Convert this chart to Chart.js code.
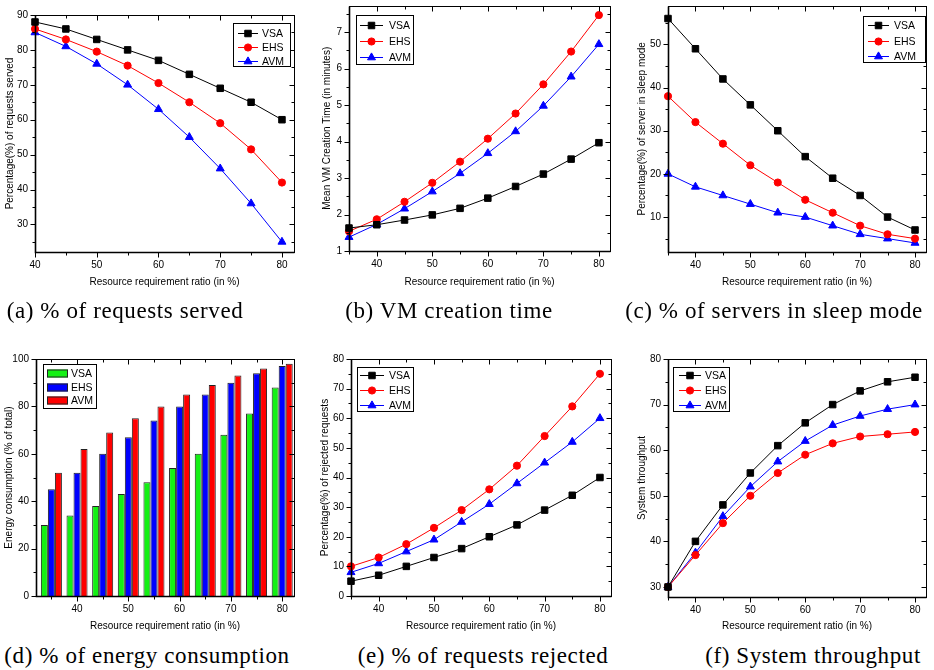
<!DOCTYPE html>
<html>
<head>
<meta charset="utf-8">
<script src="https://cdn.jsdelivr.net/npm/chart.js@4.4.1/dist/chart.umd.min.js"></script>
<style>
body { margin: 0; background: #fff; width: 934px; height: 670px; position: relative; overflow: hidden; }
canvas { position: absolute; }
.cap { position: absolute; width: 400px; text-align: center; font: 23px 'Liberation Serif', serif; letter-spacing: 0.6px; line-height: 26px; white-space: nowrap; color: #000; }
</style>
</head>
<body>
<canvas id="cA" width="310" height="300" style="left:0px;top:0px"></canvas>
<canvas id="cB" width="310" height="300" style="left:310px;top:0px"></canvas>
<canvas id="cC" width="314" height="300" style="left:620px;top:0px"></canvas>
<canvas id="cD" width="310" height="300" style="left:0px;top:340px"></canvas>
<canvas id="cE" width="310" height="300" style="left:310px;top:340px"></canvas>
<canvas id="cF" width="314" height="300" style="left:620px;top:340px"></canvas>

<div class="cap" style="left:-75px;top:298px">(a) % of requests served</div>
<div class="cap" style="left:249px;top:298px">(b) VM creation time</div>
<div class="cap" style="left:574px;top:298px">(c) % of servers in sleep mode</div>
<div class="cap" style="left:-53px;top:643px">(d) % of energy consumption</div>
<div class="cap" style="left:283px;top:643px">(e) % of requests rejected</div>
<div class="cap" style="left:613px;top:643px">(f) System throughput</div>

<script>
// x values (resource requirement ratio, %)
const ratios = [35, 40, 45, 50, 55, 60, 65, 70, 75, 80];
const ratiosServed = [40, 45, 50, 55, 60, 65, 70, 75, 80];
const seriesNames = ['VSA', 'EHS', 'AVM'];

// (a) % of requests served
const servedVSA = [88, 86, 83, 80, 77, 73, 69, 65, 60];
const servedEHS = [86, 83, 79.5, 75.5, 70.5, 65, 59, 51.5, 42];
const servedAVM = [85, 81, 76, 70, 63, 55, 46, 36, 25];

// (b) mean VM creation time (minutes)
const timeVSA = [1.63, 1.72, 1.85, 1.99, 2.17, 2.45, 2.77, 3.11, 3.52, 3.97];
const timeEHS = [1.54, 1.87, 2.35, 2.87, 3.45, 4.08, 4.77, 5.57, 6.47, 7.47];
const timeAVM = [1.38, 1.73, 2.16, 2.63, 3.13, 3.68, 4.28, 4.98, 5.78, 6.67];

// (c) % of servers in sleep mode
const sleepVSA = [56, 49, 42, 36, 30, 24, 19, 15, 10, 7];
const sleepEHS = [38, 32, 27, 22, 18, 14, 11, 8, 6, 5];
const sleepAVM = [20, 17, 15, 13, 11, 10, 8, 6, 5, 4];

// (d) energy consumption (% of total)
const energyVSA = [30, 34, 38, 43, 48, 54, 60, 68, 77, 88];
const energyEHS = [45, 52, 60, 67, 74, 80, 85, 90, 94, 97];
const energyAVM = [52, 62, 69, 75, 80, 85, 89, 93, 96, 98];

// (e) % of rejected requests
const rejectVSA = [5, 7, 10, 13, 16, 20, 24, 29, 34, 40];
const rejectEHS = [10, 13, 17.5, 23, 29, 36, 44, 54, 64, 75];
const rejectAVM = [8, 11, 15, 19, 25, 31, 38, 45, 52, 60];

// (f) system throughput
const thruVSA = [30, 40, 48, 55, 61, 66, 70, 73, 75, 76];
const thruEHS = [30, 37, 44, 50, 55, 59, 61.5, 63, 63.5, 64];
const thruAVM = [30, 37.5, 45.5, 52, 57.5, 62, 65.5, 67.5, 69, 70];

// tick labels
const xTicks = [40, 50, 60, 70, 80];
const yTicksServed = [30, 40, 50, 60, 70, 80, 90];
const yTicksTime = [1, 2, 3, 4, 5, 6, 7];
const yTicksSleep = [10, 20, 30, 40, 50];
const yTicksEnergy = [0, 20, 40, 60, 80, 100];
const yTicksReject = [0, 10, 20, 30, 40, 50, 60, 70, 80];
const yTicksThru = [30, 40, 50, 60, 70, 80];

const SANS = "'Liberation Sans', Arial, sans-serif";
Chart.defaults.font.family = SANS;
Chart.defaults.color = '#000';

const colors = ['#000000', '#ff0000', '#0000ff'];
const barColors = ['#14f014', '#0000ff', '#ff0000'];
const styles = ['rect', 'circle', 'triangle'];
const radii = [4.6, 3.6, 4.6];

function lineSets(xs, a, b, c) {
    return [a, b, c].map((ys, i) => ({
        label: seriesNames[i],
        data: xs.map((x, k) => ({ x: x, y: ys[k] })),
        borderColor: colors[i],
        backgroundColor: colors[i],
        borderWidth: 1,
        pointStyle: styles[i],
        pointRadius: radii[i],
        pointBorderWidth: 1,
        pointBackgroundColor: colors[i],
        pointBorderColor: colors[i],
        tension: 0,
        clip: false
    }));
}

function barSets(xs, a, b, c) {
    return [a, b, c].map((ys, i) => ({
        label: seriesNames[i],
        data: xs.map((x, k) => ({ x: x, y: ys[k] })),
        backgroundColor: barColors[i],
        borderColor: '#222',
        borderWidth: 1,
        categoryPercentage: 0.82,
        barPercentage: 1.0
    }));
}

// minor ticks half-way between the major ones
function minors(scale, majors) {
    const step = majors[1] - majors[0];
    const out = [];
    for (let m = majors[0] - step / 2; m <= scale.max + 1e-9; m += step) {
        if (m >= scale.min - 1e-9) out.push(m);
    }
    return out;
}

function framePlugin(xt, yt) {
    return {
        id: 'frame',
        afterDraw(chart) {
            const { ctx, chartArea: a, scales: { x, y } } = chart;
            const L = Math.round(a.left) + 0.5, R = Math.round(a.right) + 0.5;
            const T = Math.round(a.top) + 0.5, B = Math.round(a.bottom) + 0.5;
            ctx.save();
            ctx.strokeStyle = '#000';
            ctx.lineWidth = 1;
            ctx.beginPath();
            const xt2 = (v, len) => {
                const p = Math.round(x.getPixelForValue(v)) + 0.5;
                ctx.moveTo(p, B); ctx.lineTo(p, B + len);
                ctx.moveTo(p, T); ctx.lineTo(p, T + len);
            };
            const yt2 = (v, len) => {
                const p = Math.round(y.getPixelForValue(v)) + 0.5;
                ctx.moveTo(L, p); ctx.lineTo(L - len, p);
                ctx.moveTo(R, p); ctx.lineTo(R - len, p);
            };
            xt.forEach(v => xt2(v, 5));
            minors(x, xt).forEach(v => xt2(v, 3));
            yt.forEach(v => yt2(v, 5));
            minors(y, yt).forEach(v => yt2(v, 3));
            ctx.stroke();
            ctx.strokeRect(L, T, R - L, B - T);
            ctx.lineWidth = 1.6;
            ctx.beginPath();
            ctx.moveTo(L, T); ctx.lineTo(L, B); ctx.lineTo(R, B);
            ctx.stroke();
            ctx.restore();
        }
    };
}

function legendPlugin(b, isBar) {
    return {
        id: 'legendBox',
        afterDraw(chart) {
            const ctx = chart.ctx;
            ctx.save();
            ctx.fillStyle = '#fff';
            ctx.fillRect(b.x, b.y, b.w, b.h);
            ctx.strokeStyle = '#000';
            ctx.lineWidth = 1;
            ctx.strokeRect(b.x + 0.5, b.y + 0.5, b.w, b.h);
            ctx.font = "10.5px " + SANS;
            ctx.textBaseline = 'middle';
            ctx.textAlign = 'left';
            chart.data.datasets.forEach((ds, i) => {
                const yy = Math.round(b.y + b.rows[i]) + 0.5;
                if (isBar) {
                    ctx.fillStyle = ds.backgroundColor;
                    ctx.fillRect(b.x + b.l0, yy - 4, b.l1 - b.l0, 8);
                    ctx.strokeStyle = '#222';
                    ctx.strokeRect(b.x + b.l0 + 0.5, yy - 3.5, b.l1 - b.l0 - 1, 7);
                } else {
                    ctx.strokeStyle = ds.borderColor;
                    ctx.fillStyle = ds.borderColor;
                    ctx.lineWidth = 1;
                    ctx.beginPath();
                    ctx.moveTo(b.x + b.l0, yy);
                    ctx.lineTo(b.x + b.l1, yy);
                    ctx.stroke();
                    Chart.helpers.drawPoint(ctx, { pointStyle: ds.pointStyle, radius: ds.pointRadius, borderWidth: 1, rotation: 0 },
                        b.x + (b.l0 + b.l1) / 2, yy);
                }
                ctx.fillStyle = '#000';
                ctx.fillText(ds.label, b.x + b.tx, yy + 0.5);
            });
            ctx.restore();
        }
    };
}

function makeChart(id, p) {
    const g = p.geom;
    return new Chart(document.getElementById(id), {
        type: p.type,
        data: { datasets: p.datasets },
        options: {
            responsive: false,
            animation: false,
            events: [],
            layout: { padding: { left: 0, top: g.T - g.cy, right: g.cx + g.cw - g.R, bottom: 0 } },
            plugins: { legend: { display: false }, tooltip: { enabled: false } },
            scales: {
                x: {
                    type: 'linear', min: p.xMin, max: p.xMax, offset: false,
                    grid: { display: false, drawTicks: false }, border: { display: false },
                    ticks: { padding: 7, font: { size: 10 } },
                    afterBuildTicks: s => { s.ticks = p.xTicks.map(v => ({ value: v })); },
                    afterFit: s => { s.height = g.cy + g.ch - g.B; s.paddingLeft = 0; s.paddingRight = 0; },
                    title: { display: true, text: 'Resource requirement ratio (in %)', font: { size: 10 },
                             padding: { top: 0, bottom: p.xTitlePad } }
                },
                y: {
                    type: 'linear', min: p.yMin, max: p.yMax,
                    grid: { display: false, drawTicks: false }, border: { display: false },
                    ticks: { padding: 7, font: { size: 10 } },
                    afterBuildTicks: s => { s.ticks = p.yTicks.map(v => ({ value: v })); },
                    afterFit: s => { s.width = g.L - g.cx; s.paddingTop = 0; s.paddingBottom = 0; },
                    title: { display: true, text: p.yTitle, font: { size: 10 },
                             padding: { top: p.yTitlePad, bottom: 0 } }
                }
            }
        },
        plugins: [framePlugin(p.xTicks, p.yTicks), legendPlugin(p.legend, p.type === 'bar')]
    });
}

makeChart('cA', {
    type: 'line', datasets: lineSets(ratiosServed, servedVSA, servedEHS, servedAVM),
    geom: { cx: 0, cy: 0, cw: 310, ch: 300, L: 35, T: 15, R: 294, B: 252 },
    xMin: 40, xMax: 81.95, yMin: 22.1, yMax: 90, xTicks: xTicks, yTicks: yTicksServed,
    yTitle: 'Percentage(%) of requests served', xTitlePad: 12, yTitlePad: 4.5,
    legend: { x: 233, y: 23, w: 57, h: 43, rows: [10, 24, 38], l0: 5, l1: 25, tx: 29 }
});

makeChart('cB', {
    type: 'line', datasets: lineSets(ratios, timeVSA, timeEHS, timeAVM),
    geom: { cx: 310, cy: 0, cw: 310, ch: 300, L: 349, T: 5, R: 610, B: 251 },
    xMin: 35, xMax: 82, yMin: 1, yMax: 7.73, xTicks: xTicks, yTicks: yTicksTime,
    yTitle: 'Mean VM Creation Time (in minutes)', xTitlePad: 12, yTitlePad: 11,
    legend: { x: 46, y: 15, w: 57, h: 49, rows: [10, 26, 42], l0: 4, l1: 27, tx: 33 }
});

makeChart('cC', {
    type: 'line', datasets: lineSets(ratios, sleepVSA, sleepEHS, sleepAVM),
    geom: { cx: 620, cy: 0, cw: 314, ch: 300, L: 668, T: 5, R: 926, B: 252 },
    xMin: 35, xMax: 82, yMin: 1.9, yMax: 59, xTicks: xTicks, yTicks: yTicksSleep,
    yTitle: 'Percentage(%) of server in sleep mode', xTitlePad: 12, yTitlePad: 16.5,
    legend: { x: 243, y: 16, w: 62, h: 46, rows: [9, 24.5, 40], l0: 5, l1: 26, tx: 31 }
});

makeChart('cD', {
    type: 'bar', datasets: barSets(ratios, energyVSA, energyEHS, energyAVM),
    geom: { cx: 0, cy: 340, cw: 310, ch: 300, L: 36, T: 359, R: 294, B: 596 },
    xMin: 32, xMax: 82.3, yMin: 0, yMax: 100, xTicks: xTicks, yTicks: yTicksEnergy,
    yTitle: 'Energy consumption (% of total)', xTitlePad: 8, yTitlePad: 3.5,
    legend: { x: 43, y: 24, w: 53, h: 44, rows: [9, 22.5, 36], l0: 4, l1: 25, tx: 28 }
});

makeChart('cE', {
    type: 'line', datasets: lineSets(ratios, rejectVSA, rejectEHS, rejectAVM),
    geom: { cx: 310, cy: 340, cw: 310, ch: 300, L: 351, T: 359, R: 611, B: 596 },
    xMin: 35, xMax: 82, yMin: 0, yMax: 80, xTicks: xTicks, yTicks: yTicksReject,
    yTitle: 'Percentage(%) of rejected requests', xTitlePad: 8, yTitlePad: 9.5,
    legend: { x: 47, y: 27, w: 56, h: 44, rows: [7.6, 23.3, 38.3], l0: 3, l1: 27, tx: 32 }
});

makeChart('cF', {
    type: 'line', datasets: lineSets(ratios, thruVSA, thruEHS, thruAVM),
    geom: { cx: 620, cy: 340, cw: 314, ch: 300, L: 668, T: 359, R: 926, B: 597 },
    xMin: 35, xMax: 82, yMin: 27.8, yMax: 80, xTicks: xTicks, yTicks: yTicksThru,
    yTitle: 'System throughput', xTitlePad: 8, yTitlePad: 16,
    legend: { x: 53, y: 27, w: 56, h: 44, rows: [7.6, 23.3, 38.3], l0: 6, l1: 28, tx: 32 }
});
</script>
</body>
</html>
